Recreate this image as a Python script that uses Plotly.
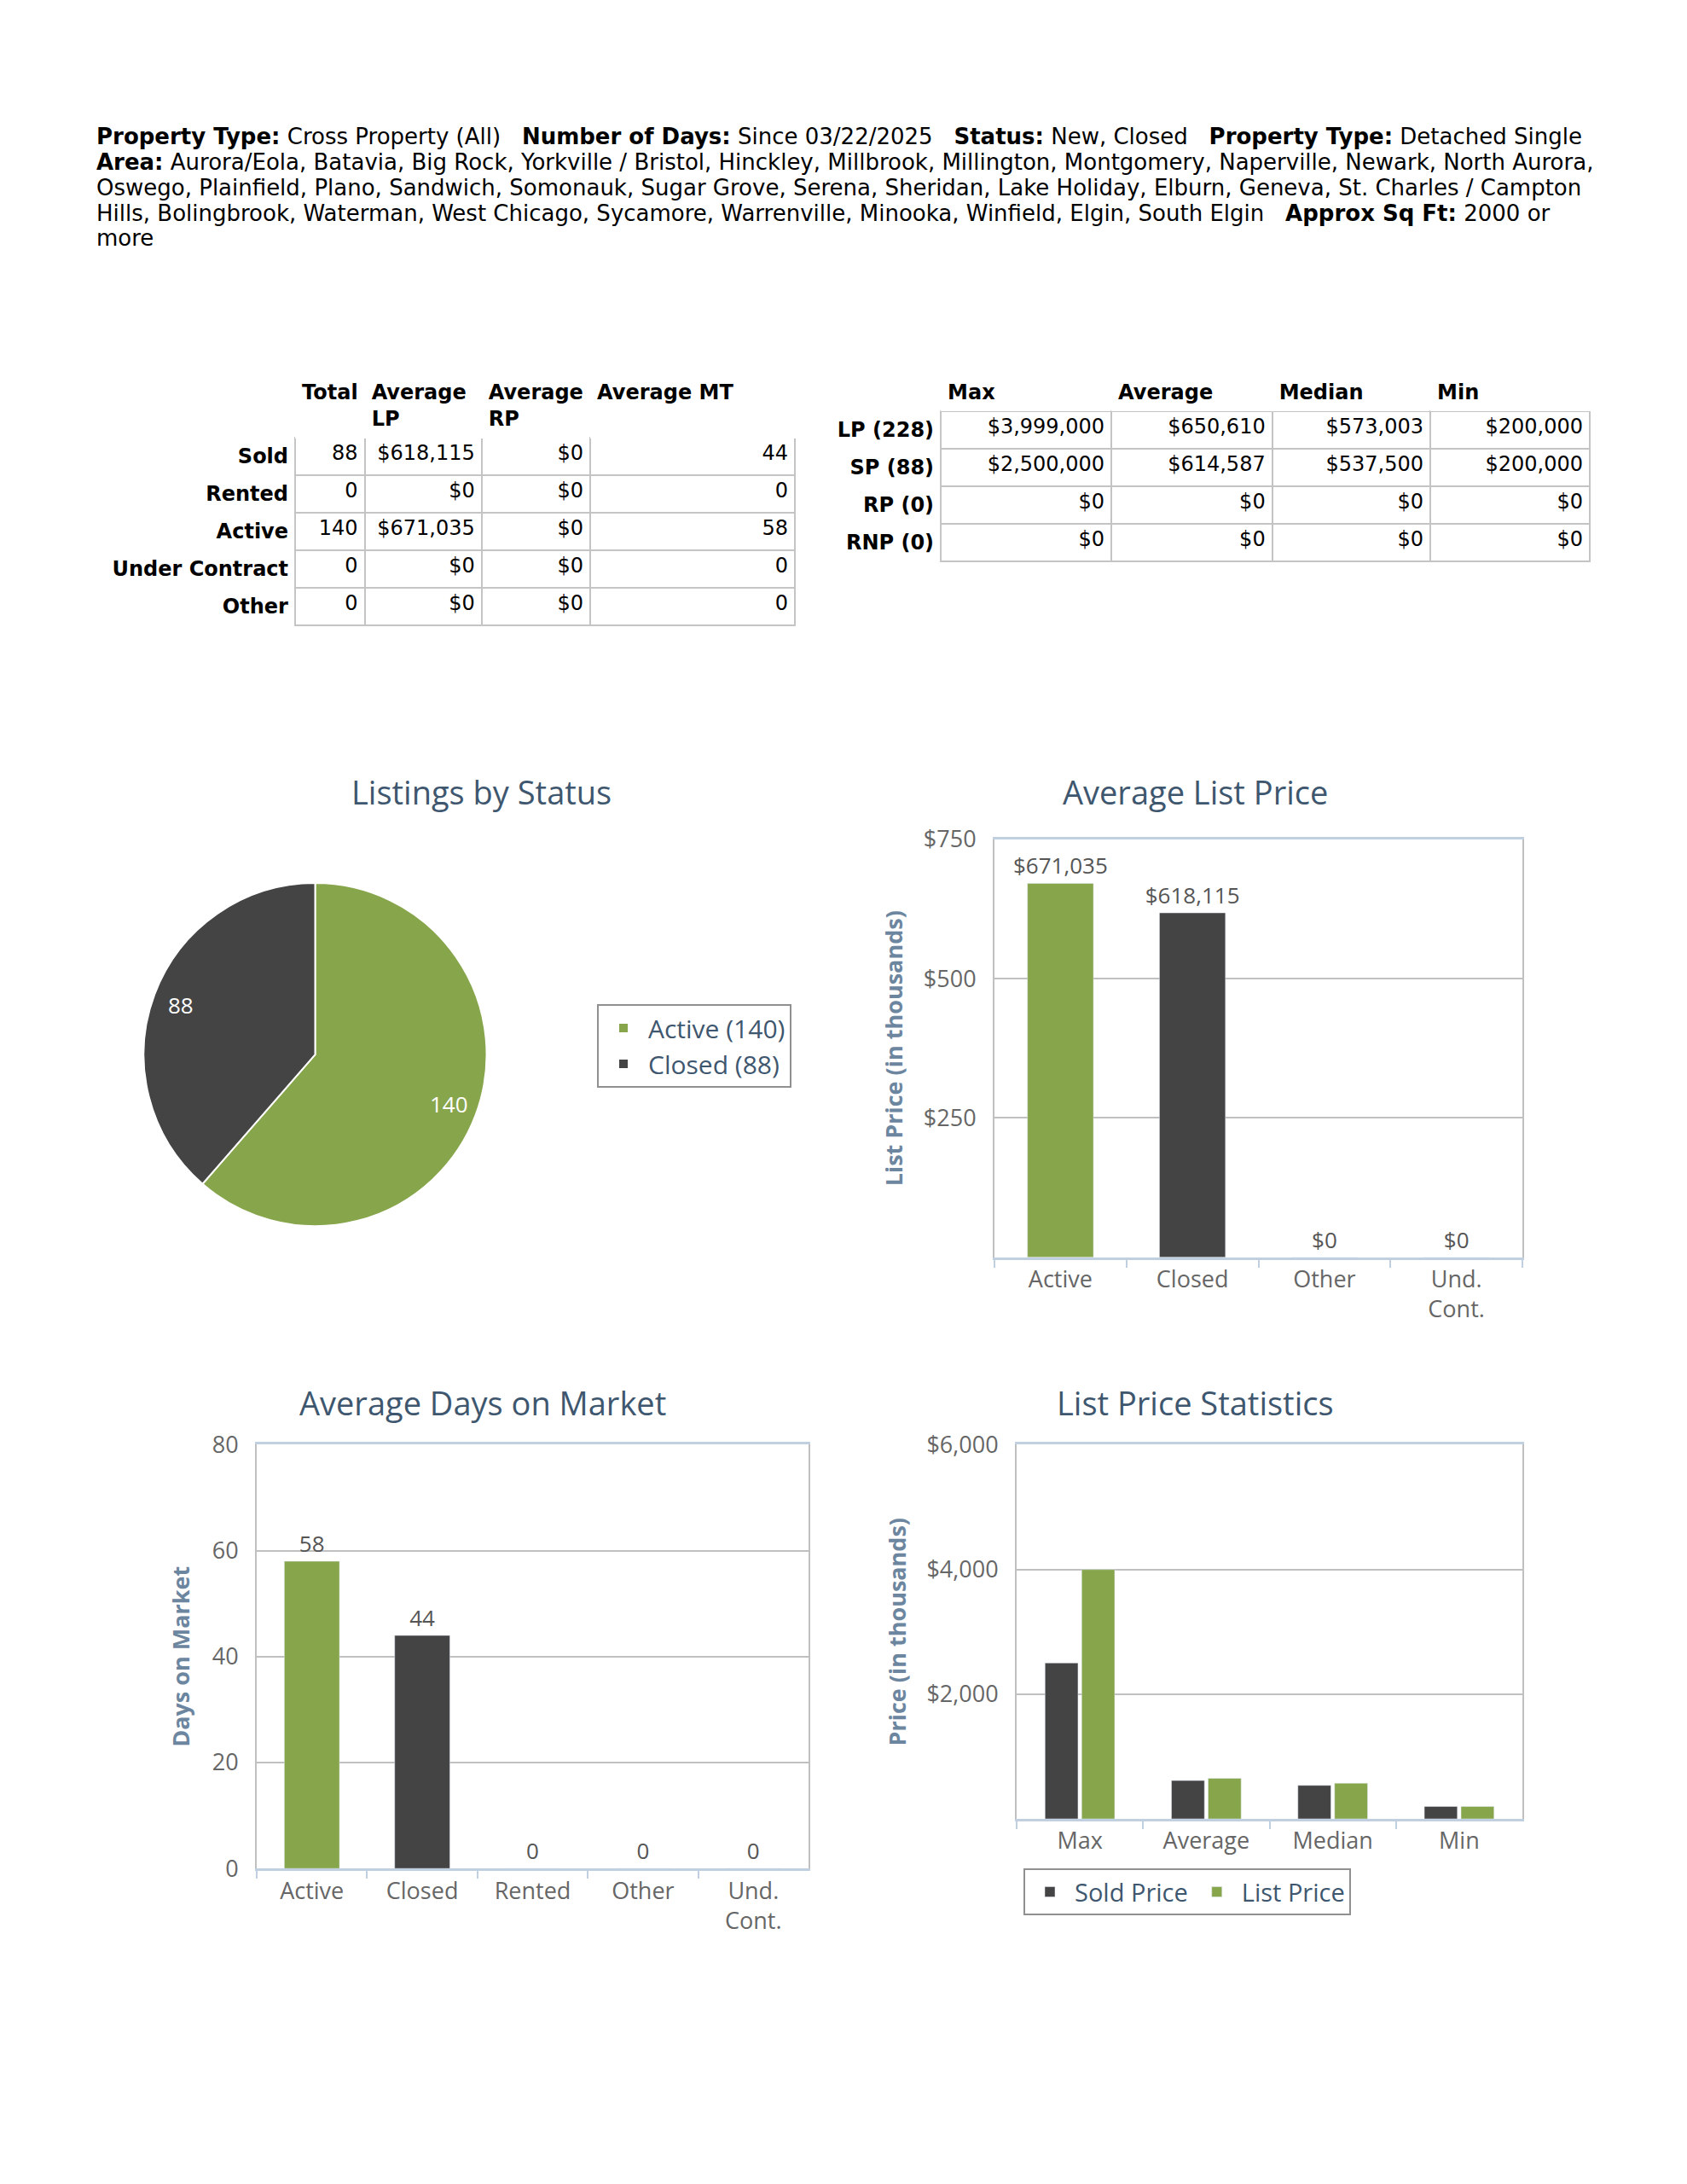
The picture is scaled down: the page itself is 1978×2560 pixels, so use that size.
import math
import plotly.graph_objects as go

# ---- data ----
status_labels = ["Active", "Closed"]
status_counts = [140, 88]

alp_cats = ["Active", "Closed", "Other", "Und.<br>Cont."]
alp_values = [671035, 618115, 0, 0]

dom_cats = ["Active", "Closed", "Rented", "Other", "Und.<br>Cont."]
dom_values = [58, 44, 0, 0, 0]

stat_cats = ["Max", "Average", "Median", "Min"]
sold_price = [2500000, 614587, 537500, 200000]
list_price = [3999000, 650610, 573003, 200000]

t1_rows = ["Sold", "Rented", "Active", "Under Contract", "Other"]
t1_total = [88, 0, 140, 0, 0]
t1_avg_lp = [618115, 0, 671035, 0, 0]
t1_avg_rp = [0, 0, 0, 0, 0]
t1_avg_mt = [44, 0, 58, 0, 0]

t2_rows = ["LP (228)", "SP (88)", "RP (0)", "RNP (0)"]
t2_max = [3999000, 2500000, 0, 0]
t2_avg = [650610, 614587, 0, 0]
t2_median = [573003, 537500, 0, 0]
t2_min = [200000, 200000, 0, 0]

header_lines = [
    "<b>Property Type:</b> Cross Property (All)\u00a0\u00a0 <b>Number of Days:</b> Since 03/22/2025"
    "\u00a0\u00a0 <b>Status:</b> New, Closed\u00a0\u00a0 <b>Property Type:</b> Detached Single",
    "<b>Area:</b> Aurora/Eola, Batavia, Big Rock, Yorkville / Bristol, Hinckley, Millbrook, Millington, "
    "Montgomery, Naperville, Newark, North Aurora,",
    "Oswego, Plainfield, Plano, Sandwich, Somonauk, Sugar Grove, Serena, Sheridan, Lake Holiday, "
    "Elburn, Geneva, St. Charles / Campton",
    "Hills, Bolingbrook, Waterman, West Chicago, Sycamore, Warrenville, Minooka, Winfield, Elgin, "
    "South Elgin\u00a0\u00a0 <b>Approx Sq Ft:</b> 2000 or",
    "more",
]

GREEN = "#87A54B"
DARK = "#444444"
TITLE = "#3E576F"
AXT = "#6D869F"
LBL = "#666666"
FONT = "Open Sans"
TFONT = dict(family="DejaVu Sans", size=24, color="black")
W, H = 1978, 2560


def money(v):
    return f"${v:,}"


def label(s):
    # keep row labels on one line
    return "<b>" + s.replace(" ", "\u00a0") + "</b>"


def px(x0, x1):
    return [x0 / W, x1 / W]


def py(top, bottom):
    return [1 - bottom / H, 1 - top / H]


fig = go.Figure()

# ---- tables ----
cell_line = ["white", "#C4C4C4", "#C4C4C4", "#C4C4C4", "#C4C4C4"]
fig.add_trace(go.Table(
    domain=dict(x=px(111, 932), y=py(424, 760)),
    columnwidth=[144, 50, 84, 78, 147],
    header=dict(
        values=["", "<b>Total</b>", "<b>Average<br>LP</b>", "<b>Average<br>RP</b>", "<b>Average MT</b>"],
        align="left", fill_color="white", line_color="white", font=TFONT, height=55),
    cells=dict(
        values=[[label(r) for r in t1_rows], t1_total,
                [money(v) for v in t1_avg_lp], [money(v) for v in t1_avg_rp], t1_avg_mt],
        align="right", fill_color="white", line=dict(color=cell_line, width=2),
        font=TFONT, height=44),
))

fig.add_trace(go.Table(
    domain=dict(x=px(960, 1864), y=py(424, 680)),
    columnwidth=[88, 123, 116, 114, 115],
    header=dict(
        values=["", "<b>Max</b>", "<b>Average</b>", "<b>Median</b>", "<b>Min</b>"],
        align="left", fill_color="white", line_color="white", font=TFONT, height=33),
    cells=dict(
        values=[[label(r) for r in t2_rows], [money(v) for v in t2_max],
                [money(v) for v in t2_avg], [money(v) for v in t2_median],
                [money(v) for v in t2_min]],
        align="right", fill_color="white", line=dict(color=cell_line, width=2),
        font=TFONT, height=44),
))

# ---- pie ----
pie_x = px(165, 574)
pie_y = py(1030, 1438)
fig.add_trace(go.Pie(
    labels=[f"{l} ({c})" for l, c in zip(status_labels, status_counts)],
    values=status_counts, textinfo="none",
    marker=dict(colors=[GREEN, DARK], line=dict(color="white", width=2)),
    sort=False, direction="clockwise", rotation=0,
    domain=dict(x=pie_x, y=pie_y),
    legend="legend", hoverinfo="label+value",
))

# slice labels sit a little inside the rim, at each slice's middle angle
cx, cy = sum(pie_x) / 2, sum(pie_y) / 2
r_lbl = 0.82 * (pie_x[1] - pie_x[0]) * W / 2
total = sum(status_counts)
cum = 0
for c in status_counts:
    mid = (cum + c / 2) / total * 2 * math.pi
    cum += c
    fig.add_annotation(text=str(c), xref="paper", yref="paper",
                       x=cx + math.sin(mid) * r_lbl / W, y=cy + math.cos(mid) * r_lbl / H,
                       xanchor="center", yanchor="middle",
                       showarrow=False, font=dict(family=FONT, size=26, color="white"))

# ---- average list price ----
fig.add_trace(go.Bar(
    x=alp_cats, y=[v / 1000 for v in alp_values], width=0.5,
    marker=dict(color=[GREEN, DARK, GREEN, GREEN]),
    text=[money(v) for v in alp_values], textposition="outside", cliponaxis=False,
    constraintext="none", textfont=dict(family=FONT, size=26, color="#555555"),
    xaxis="x", yaxis="y", showlegend=False,
))

# ---- average days on market ----
fig.add_trace(go.Bar(
    x=dom_cats, y=dom_values, width=0.5,
    marker=dict(color=[GREEN, DARK, GREEN, GREEN, GREEN]),
    text=[str(v) for v in dom_values], textposition="outside", cliponaxis=False,
    constraintext="none", textfont=dict(family=FONT, size=26, color="#555555"),
    xaxis="x2", yaxis="y2", showlegend=False,
))

# ---- list price statistics ----
fig.add_trace(go.Bar(
    x=stat_cats, y=[v / 1000 for v in sold_price], name="Sold Price",
    marker_color=DARK, xaxis="x3", yaxis="y3", legend="legend2",
))
fig.add_trace(go.Bar(
    x=stat_cats, y=[v / 1000 for v in list_price], name="List Price",
    marker_color=GREEN, xaxis="x3", yaxis="y3", legend="legend2",
))

xcommon = dict(
    type="category", showline=True, linecolor="#C0D0E0", linewidth=3, mirror=True,
    ticks="outside", tickson="boundaries", tickcolor="#C0D0E0", ticklen=9, tickwidth=2,
    tickfont=dict(family=FONT, size=27, color=LBL), showgrid=False, fixedrange=True,
)
ycommon = dict(
    showline=True, linecolor="#C0C0C0", linewidth=2, mirror=True,
    showgrid=True, gridcolor="#C0C0C0", gridwidth=2, zeroline=False, ticks="",
    tickfont=dict(family=FONT, size=27, color=LBL), ticklabelstandoff=14,
    title_font=dict(family=FONT, size=27, color=AXT, weight="bold"), fixedrange=True,
)

fig.update_layout(
    width=W, height=H, margin=dict(l=0, r=0, t=0, b=0),
    paper_bgcolor="white", plot_bgcolor="white",
    barmode="group", bargap=0.42, bargroupgap=0.1,
    font=dict(family=FONT),
    xaxis=dict(xcommon, domain=px(1166, 1785), anchor="y"),
    yaxis=dict(ycommon, domain=py(978, 1475), anchor="x", range=[0, 750],
               tickvals=[250, 500, 750], ticktext=["$250", "$500", "$750"],
               title=dict(text="List Price (in thousands)", standoff=16)),
    xaxis2=dict(xcommon, domain=px(301, 948), anchor="y2"),
    yaxis2=dict(ycommon, domain=py(1698, 2202), anchor="x2", range=[0, 80],
                tickvals=[0, 20, 40, 60, 80],
                title=dict(text="Days on Market", standoff=18)),
    xaxis3=dict(xcommon, domain=px(1192, 1785), anchor="y3"),
    yaxis3=dict(ycommon, domain=py(1698, 2143), anchor="x3", range=[0, 6000],
                tickvals=[2000, 4000, 6000], ticktext=["$2,000", "$4,000", "$6,000"],
                title=dict(text="Price (in thousands)", standoff=16)),
    legend=dict(x=700 / W, y=1 - 1174 / H, xanchor="left", yanchor="top",
                bordercolor="#909090", borderwidth=2, bgcolor="white", itemwidth=48,
                font=dict(family=FONT, size=30, color=TITLE), traceorder="normal"),
    legend2=dict(x=1200 / W, y=1 - 2202 / H, xanchor="left", yanchor="top",
                 orientation="h", bordercolor="#909090", borderwidth=2, bgcolor="white",
                 itemwidth=48, font=dict(family=FONT, size=29, color=TITLE)),
)

# report header, one annotation per printed line
for i, line in enumerate(header_lines):
    fig.add_annotation(text=line, xref="paper", yref="paper", x=111 / W,
                       y=1 - (142.5 + 30.2 * i) / H, xanchor="left", yanchor="middle",
                       align="left", showarrow=False,
                       font=dict(family="DejaVu Sans", size=26, color="black"))

titles = [
    ("Listings by Status", 564, 921),
    ("Average List Price", 1401, 921),
    ("Average Days on Market", 566, 1648),
    ("List Price Statistics", 1401, 1648),
]
for text, tx, ty in titles:
    fig.add_annotation(text=text, xref="paper", yref="paper", x=tx / W, y=1 - ty / H,
                       xanchor="center", yanchor="middle", showarrow=False,
                       font=dict(family=FONT, size=38, color=TITLE))

fig.write_html("out.html", config={"displayModeBar": False},
               post_script="document.body.style.margin='0';")
